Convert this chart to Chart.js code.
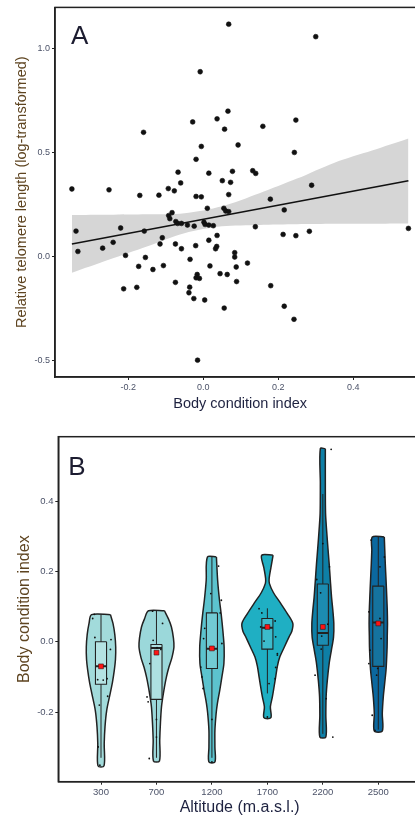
<!DOCTYPE html>
<html>
<head>
<meta charset="utf-8">
<script src="https://cdn.jsdelivr.net/npm/chart.js@4.4.1/dist/chart.umd.min.js"></script>
<style>
  html, body { margin: 0; padding: 0; background: #fff; overflow: hidden; width: 415px; height: 819px; }
  #wrapA { position: absolute; left: 0; top: 0; }
  #wrapB { position: absolute; left: 0; top: 418px; }
</style>
</head>
<body>
<div id="wrapA"><canvas id="chartA" width="440" height="418"></canvas></div>
<div id="wrapB"><canvas id="chartB" width="440" height="401"></canvas></div>
<script>
// ---- Panel A: telomere length against body condition ----
const bodyCondition = [
  0.068, 0.300, -0.008, 0.066, 0.037, -0.028, 0.247, -0.159, 0.159, 0.057,
  -0.005, 0.093, 0.243, -0.019, -0.067, 0.015, 0.078, 0.132, 0.140, 0.051,
  0.073, -0.060, 0.289, -0.350, -0.251, -0.093, -0.077, -0.169, -0.118, -0.019,
  -0.005, 0.068, 0.179, -0.339, -0.334, -0.268, -0.240, -0.220, -0.207, -0.157,
  -0.154, -0.172, -0.134, -0.106, -0.212, -0.177, -0.115, -0.109, -0.092, -0.083,
  -0.089, -0.073, -0.068, -0.058, -0.042, -0.024, 0.002, 0.005, 0.015, 0.027,
  0.011, 0.055, 0.060, 0.068, 0.139, 0.216, 0.213, 0.247, 0.283, 0.547,
  -0.074, -0.058, -0.020, -0.035, 0.015, 0.037, 0.036, 0.033, 0.084, 0.084,
  0.088, 0.118, 0.018, 0.045, 0.064, -0.016, -0.019, -0.010, -0.074, 0.089,
  -0.036, -0.038, -0.025, 0.004, 0.180, 0.056, 0.216, 0.242, -0.015
];
const telomereLength = [
  1.119, 1.059, 0.890, 0.700, 0.663, 0.648, 0.657, 0.598, 0.627, 0.613,
  0.530, 0.537, 0.501, 0.468, 0.406, 0.401, 0.410, 0.413, 0.400, 0.365,
  0.357, 0.354, 0.343, 0.325, 0.321, 0.327, 0.316, 0.294, 0.295, 0.289,
  0.287, 0.298, 0.276, 0.122, 0.024, 0.040, 0.068, 0.137, 0.005, 0.122,
  -0.005, -0.048, -0.063, -0.044, -0.156, -0.149, 0.060, 0.090, 0.197, 0.211,
  0.182, 0.168, 0.159, 0.159, 0.151, 0.146, 0.165, 0.154, 0.151, 0.148,
  0.232, 0.232, 0.219, 0.216, 0.143, 0.224, 0.106, 0.100, 0.121, 0.135,
  0.060, 0.037, 0.052, -0.014, 0.078, 0.101, 0.048, 0.037, 0.018, -0.003,
  -0.051, -0.032, -0.046, -0.083, -0.087, -0.087, -0.103, -0.106, -0.125, -0.121,
  -0.148, -0.175, -0.203, -0.210, -0.141, -0.249, -0.240, -0.303, -0.500
];
const fitX = [-0.35, 0.547];
const fitY = [0.060, 0.365];
const bandX = [-0.35, -0.25, -0.15, -0.05, 0.05, 0.15, 0.25, 0.35, 0.45, 0.547];
const bandUpper = [0.200, 0.201, 0.203, 0.208, 0.242, 0.305, 0.375, 0.452, 0.510, 0.568];
const bandLower = [-0.079, -0.015, 0.048, 0.112, 0.145, 0.152, 0.155, 0.157, 0.158, 0.159];
const xTicksA = [-0.2, 0, 0.2, 0.4];
const yTicksA = [-0.5, 0, 0.5, 1.0];

// ---- Panel B: body condition by altitude ----
const altitudes = ['300', '700', '1200', '1700', '2200', '2500'];
const yTicksB = [-0.2, 0, 0.2, 0.4];
// violin outlines: y levels (top to bottom) and density half-widths
const violinY = [
  [0.077, 0.052, 0.02, -0.015, -0.05, -0.081, -0.115, -0.147, -0.195, -0.242, -0.29, -0.353],
  [0.088, 0.065, 0.042, 0.01, -0.015, -0.045, -0.072, -0.10, -0.129, -0.16, -0.186, -0.23, -0.28, -0.339],
  [0.241, 0.175, 0.12, 0.08, 0.03, -0.015, -0.062, -0.10, -0.138, -0.175, -0.204, -0.252, -0.3, -0.342],
  [0.246, 0.21, 0.18, 0.166, 0.14, 0.109, 0.08, 0.052, 0.03, 0.014, -0.015, -0.043, -0.07, -0.10, -0.157, -0.185, -0.216],
  [0.549, 0.45, 0.365, 0.317, 0.27, 0.222, 0.175, 0.127, 0.09, 0.052, 0.014, -0.025, -0.062, -0.11, -0.157, -0.21, -0.271],
  [0.298, 0.26, 0.222, 0.175, 0.127, 0.09, 0.052, 0.018, -0.015, -0.05, -0.081, -0.12, -0.157, -0.204, -0.254]
];
const violinHalfWidth = [
  [0.17, 0.216, 0.249, 0.265, 0.261, 0.24, 0.207, 0.166, 0.103, 0.072, 0.058, 0.054],
  [0.144, 0.216, 0.27, 0.306, 0.315, 0.279, 0.225, 0.18, 0.144, 0.112, 0.09, 0.072, 0.059, 0.054],
  [0.081, 0.103, 0.135, 0.166, 0.198, 0.22, 0.216, 0.18, 0.141, 0.099, 0.076, 0.054, 0.054, 0.054],
  [0.103, 0.063, 0.032, 0.036, 0.108, 0.24, 0.36, 0.459, 0.441, 0.391, 0.306, 0.225, 0.18, 0.15, 0.09, 0.054, 0.063],
  [0.045, 0.045, 0.049, 0.068, 0.09, 0.114, 0.135, 0.157, 0.18, 0.198, 0.193, 0.153, 0.114, 0.081, 0.059, 0.054, 0.054],
  [0.108, 0.117, 0.126, 0.14, 0.153, 0.162, 0.166, 0.162, 0.159, 0.15, 0.139, 0.114, 0.09, 0.072, 0.072]
];
const boxQ1 = [-0.121, -0.164, -0.076, -0.021, -0.010, -0.070];
const boxMedian = [-0.070, -0.018, -0.020, 0.040, 0.025, 0.055];
const boxQ3 = [0.000, -0.008, 0.082, 0.066, 0.164, 0.158];
const whiskerLow = [-0.330, -0.330, -0.330, -0.147, -0.262, -0.250];
const whiskerHigh = [0.077, 0.088, 0.241, 0.095, 0.420, 0.298];
const groupMean = [-0.070, -0.031, -0.019, 0.042, 0.042, 0.052];
// individual birds, horizontal jitter around the group centre
const jitterDx = [
  [-0.12, -0.15, -0.11, 0.18, 0.17, -0.06, 0.04, 0.11, 0.12, -0.03, -0.05, -0.02],
  [-0.07, 0.11, -0.06, 0.01, 0.08, -0.12, -0.17, -0.15, 0.0, 0.0, -0.13],
  [0.12, -0.02, 0.17, 0.15, -0.13, -0.15, 0.18, -0.18, -0.16, 0.0, -0.2, 0.0],
  [-0.15, -0.10, 0.14, -0.12, 0.15, -0.06, 0.18, 0.15, 0.14, 0.03, 0.18, 0.0],
  [0.15, 0.0, 0.12, -0.11, -0.04, 0.09, -0.02, -0.03, -0.14, 0.06, 0.18],
  [-0.13, 0.11, 0.03, -0.17, 0.03, 0.05, -0.15, -0.17, -0.01, -0.03, -0.11, -0.06]
];
const jitterY = [
  [0.078, 0.066, 0.012, 0.006, -0.022, -0.108, -0.109, -0.105, -0.155, -0.18, -0.299, -0.351],
  [0.087, 0.052, 0.004, -0.017, -0.022, -0.062, -0.157, -0.171, -0.221, -0.271, -0.332],
  [0.215, 0.137, 0.118, 0.082, 0.038, 0.009, -0.005, -0.10, -0.133, -0.221, -0.072, -0.342],
  [0.094, 0.082, 0.059, 0.042, 0.014, 0.002, -0.038, -0.073, -0.105, -0.119, -0.034, -0.214],
  [0.547, 0.279, 0.213, 0.177, 0.139, 0.05, 0.016, -0.021, -0.095, -0.162, -0.271],
  [0.289, 0.241, 0.213, 0.085, 0.066, 0.009, -0.024, -0.062, -0.076, -0.095, -0.209, -0.252]
];

const violinColors = ['#a2dbdb', '#9bd8da', '#5cc3ce', '#1fafc3', '#0e7fa6', '#0b689f'];
const boxColors = ['#b4e3e3', '#aee0e1', '#72cbd4', '#3cbbcb', '#1c8cb1', '#15739f'];
const BOX_HALF = 0.1;
const INK = '#222';
const FONT = "'Liberation Sans', Arial, sans-serif";

const pts = (xs, ys) => xs.map((x, i) => ({ x, y: ys[i] }));

// outline + fill box around the plotting area, and the panel letter
const panelFrame = {
  id: 'panelFrame',
  afterDatasetsDraw(chart, args, opts) {
    const { ctx, chartArea: a } = chart;
    ctx.save();
    ctx.strokeStyle = INK;
    ctx.lineWidth = 1.5;
    ctx.strokeRect(a.left, a.top, a.right - a.left, a.bottom - a.top);
    ctx.fillStyle = '#1c1c30';
    ctx.font = '26px ' + FONT;
    ctx.textBaseline = 'alphabetic';
    ctx.fillText(opts.letter, a.left + opts.dx, a.top + opts.dy);
    ctx.restore();
  }
};

function axisCommon(extra) {
  return Object.assign({
    type: 'linear',
    grid: { drawOnChartArea: false, drawTicks: true, tickLength: 3, color: INK, lineWidth: 1 },
    border: { display: true, color: INK, width: 1.5 },
  }, extra);
}

// ---- chart A ----
new Chart(document.getElementById('chartA'), {
  type: 'scatter',
  plugins: [panelFrame],
  data: {
    datasets: [
      { data: pts(bodyCondition, telomereLength), pointRadius: 2.4, pointBackgroundColor: '#111',
        pointBorderColor: '#111', pointBorderWidth: 0.6, order: 1 },
      { data: pts(fitX, fitY), showLine: true, borderColor: '#111', borderWidth: 1.5, pointRadius: 0, order: 2 },
      { data: pts(bandX, bandUpper), showLine: true, borderColor: 'rgba(0,0,0,0)', pointRadius: 0,
        fill: '+1', backgroundColor: '#d6d6d6', tension: 0.3, order: 3 },
      { data: pts(bandX, bandLower), showLine: true, borderColor: 'rgba(0,0,0,0)', pointRadius: 0,
        fill: false, tension: 0.3, order: 4 }
    ]
  },
  options: {
    responsive: false,
    animation: false,
    layout: { padding: { left: 0, top: 6, right: 14.7, bottom: 0 } },
    plugins: {
      legend: { display: false },
      tooltip: { enabled: false },
      panelFrame: { letter: 'A', dx: 16, dy: 36.5 }
    },
    scales: {
      x: axisCommon({
        position: 'bottom', min: -0.395, max: 0.592,
        afterBuildTicks: s => { s.ticks = xTicksA.map(v => ({ value: v })); },
        afterFit: s => { s.height = 41; },
        ticks: { callback: v => v.toFixed(1), color: '#4b5268', font: { family: FONT, size: 9 },
                 padding: 2.5, maxRotation: 0, autoSkip: false },
        title: { display: true, text: 'Body condition index', color: '#1e2240',
                 font: { family: FONT, size: 14.5 }, padding: { top: 0, bottom: 5.3 } }
      }),
      y: axisCommon({
        position: 'left', min: -0.581, max: 1.2,
        afterBuildTicks: s => { s.ticks = yTicksA.map(v => ({ value: v })); },
        afterFit: s => { s.width = 55; },
        ticks: { callback: v => v.toFixed(1), color: '#4b5268', font: { family: FONT, size: 9 },
                 padding: 2, autoSkip: false },
        title: { display: true, text: 'Relative telomere length (log-transformed)', color: '#5e4420',
                 font: { family: FONT, size: 14.5 }, padding: { top: 12.8, bottom: 0 } }
      })
    }
  }
});

// ---- chart B ----
const datasetsB = [];
altitudes.forEach((alt, i) => {
  const c = i + 1;
  const ys = violinY[i], ws = violinHalfWidth[i];
  const right = ys.map((y, k) => ({ x: c + ws[k], y }));
  const left = ys.map((y, k) => ({ x: c - ws[k], y })).reverse();
  datasetsB.push({
    data: right.concat(left, [right[0]]), showLine: true, fill: 'shape',
    backgroundColor: violinColors[i], borderColor: INK, borderWidth: 1.5,
    pointRadius: 0, tension: 0.3, order: 6
  });
  datasetsB.push({
    data: [
      { x: c + BOX_HALF, y: boxQ3[i] }, { x: c + BOX_HALF, y: boxQ1[i] },
      { x: c - BOX_HALF, y: boxQ1[i] }, { x: c - BOX_HALF, y: boxQ3[i] },
      { x: c + BOX_HALF, y: boxQ3[i] }
    ],
    showLine: true, fill: 'shape', backgroundColor: boxColors[i], borderColor: INK,
    borderWidth: 1.1, pointRadius: 0, order: 4
  });
});

const whiskerPts = [], medianPts = [], jitterPts = [];
altitudes.forEach((alt, i) => {
  const c = i + 1;
  whiskerPts.push({ x: c, y: whiskerLow[i] }, { x: c, y: whiskerHigh[i] }, { x: c, y: null });
  medianPts.push({ x: c - BOX_HALF, y: boxMedian[i] }, { x: c + BOX_HALF, y: boxMedian[i] }, { x: c, y: null });
  jitterDx[i].forEach((dx, k) => jitterPts.push({ x: c + dx, y: jitterY[i][k] }));
});

datasetsB.push(
  { data: whiskerPts, showLine: true, borderColor: INK, borderWidth: 1, pointRadius: 0, order: 5 },
  { data: medianPts, showLine: true, borderColor: INK, borderWidth: 2, pointRadius: 0, order: 3 },
  { data: jitterPts, pointRadius: 0.9, pointBackgroundColor: '#111', pointBorderWidth: 0, order: 2 },
  { data: groupMean.map((m, i) => ({ x: i + 1, y: m })), pointStyle: 'rect', pointRadius: 3.4,
    pointBackgroundColor: '#ff1414', pointBorderColor: '#3a1010', pointBorderWidth: 0.6, order: 1 }
);

new Chart(document.getElementById('chartB'), {
  type: 'scatter',
  plugins: [panelFrame],
  data: { datasets: datasetsB },
  options: {
    responsive: false,
    animation: false,
    layout: { padding: { left: 0, top: 18.7, right: 19, bottom: 0 } },
    plugins: {
      legend: { display: false },
      tooltip: { enabled: false },
      panelFrame: { letter: 'B', dx: 10, dy: 38.3 }
    },
    scales: {
      x: axisCommon({
        position: 'bottom', min: 0.23, max: 6.77,
        afterBuildTicks: s => { s.ticks = altitudes.map((a, i) => ({ value: i + 1 })); },
        afterFit: s => { s.height = 37.3; },
        ticks: { callback: v => altitudes[v - 1], color: '#4b5268', font: { family: FONT, size: 9.5 },
                 padding: 1.5, maxRotation: 0, autoSkip: false },
        title: { display: true, text: 'Altitude (m.a.s.l.)', color: '#1e2240',
                 font: { family: FONT, size: 16 }, padding: { top: 0, bottom: 1.4 } }
      }),
      y: axisCommon({
        position: 'left', min: -0.398, max: 0.583,
        afterBuildTicks: s => { s.ticks = yTicksB.map(v => ({ value: v })); },
        afterFit: s => { s.width = 58.3; },
        ticks: { callback: v => v.toFixed(1), color: '#4b5268', font: { family: FONT, size: 9.5 },
                 padding: 1.8, autoSkip: false },
        title: { display: true, text: 'Body condition index', color: '#5e4420',
                 font: { family: FONT, size: 16 }, padding: { top: 15.4, bottom: 0 } }
      })
    }
  }
});
</script>
</body>
</html>
